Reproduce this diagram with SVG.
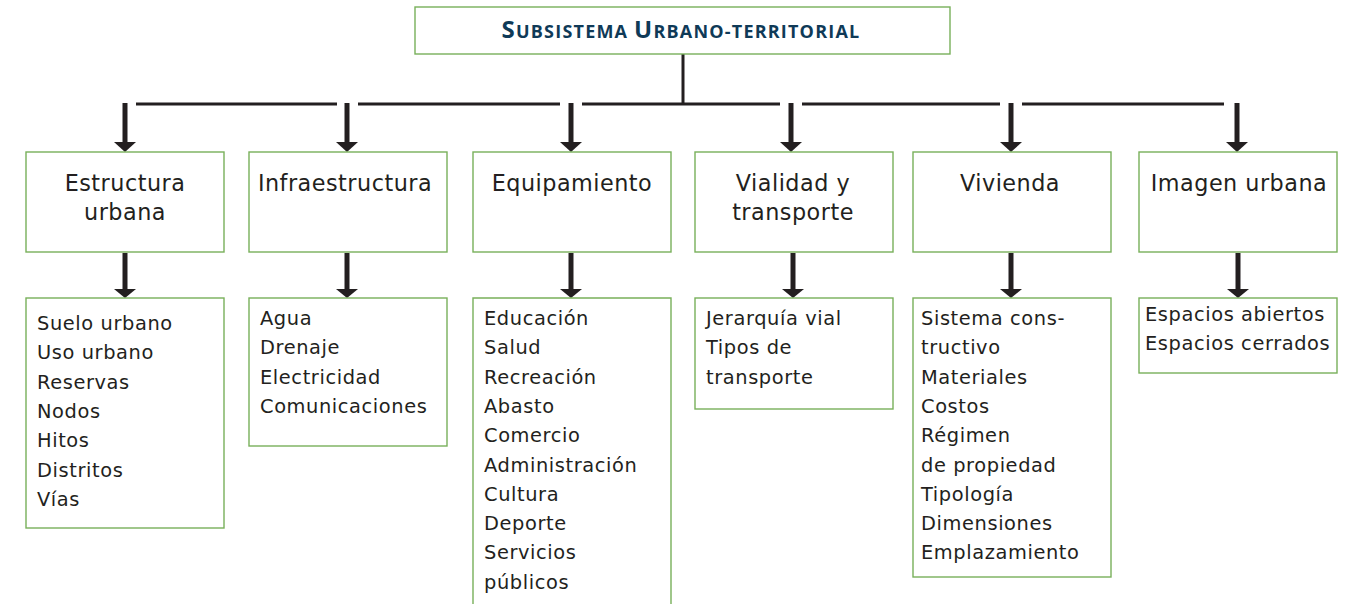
<svg xmlns="http://www.w3.org/2000/svg" width="1348" height="604" viewBox="0 0 1348 604">
<style>
.box{fill:#fff;stroke:#78b05a;stroke-width:1.4}
.lbl{font-family:"DejaVu Sans",sans-serif;font-size:22.3px;fill:#231f20;text-anchor:middle;letter-spacing:0.5px}
.lst{font-family:"DejaVu Sans",sans-serif;font-size:19.4px;fill:#231f20;letter-spacing:0.6px}
.ttl{font-family:"Open Sans","DejaVu Sans",sans-serif;font-weight:bold;fill:#0f3a57;text-anchor:middle;letter-spacing:1.2px}
.ln{stroke:#231f20;stroke-width:3;fill:none}
.sh{stroke:#231f20;stroke-width:5;fill:none}
.hd{fill:#231f20}
</style>
<rect width="1348" height="604" fill="#fff"/>
<g id="connectors">
<line class="ln" x1="683" y1="54" x2="683" y2="104"/>
<line class="ln" x1="136" y1="104" x2="337" y2="104"/>
<line class="ln" x1="358" y1="104" x2="560" y2="104"/>
<line class="ln" x1="582" y1="104" x2="780" y2="104"/>
<line class="ln" x1="802" y1="104" x2="1000" y2="104"/>
<line class="ln" x1="1022" y1="104" x2="1224" y2="104"/>
<g id="arrows1">
<line class="sh" x1="125" y1="103" x2="125" y2="143"/><polygon class="hd" points="114,142 136,142 125,152"/>
<line class="sh" x1="347" y1="103" x2="347" y2="143"/><polygon class="hd" points="336,142 358,142 347,152"/>
<line class="sh" x1="571" y1="103" x2="571" y2="143"/><polygon class="hd" points="560,142 582,142 571,152"/>
<line class="sh" x1="791" y1="103" x2="791" y2="143"/><polygon class="hd" points="780,142 802,142 791,152"/>
<line class="sh" x1="1011" y1="103" x2="1011" y2="143"/><polygon class="hd" points="1000,142 1022,142 1011,152"/>
<line class="sh" x1="1237" y1="103" x2="1237" y2="143"/><polygon class="hd" points="1226,142 1248,142 1237,152"/>
</g>
<g id="arrows2">
<line class="sh" x1="125" y1="253" x2="125" y2="290"/><polygon class="hd" points="114,289 136,289 125,298"/>
<line class="sh" x1="347" y1="253" x2="347" y2="290"/><polygon class="hd" points="336,289 358,289 347,298"/>
<line class="sh" x1="571" y1="253" x2="571" y2="290"/><polygon class="hd" points="560,289 582,289 571,298"/>
<line class="sh" x1="793" y1="253" x2="793" y2="290"/><polygon class="hd" points="782,289 804,289 793,298"/>
<line class="sh" x1="1011" y1="253" x2="1011" y2="290"/><polygon class="hd" points="1000,289 1022,289 1011,298"/>
<line class="sh" x1="1238" y1="253" x2="1238" y2="290"/><polygon class="hd" points="1227,289 1249,289 1238,298"/>
</g>
</g>
<g id="root">
<rect class="box" x="415" y="7" width="535" height="47"/>
<text class="ttl" x="681" y="38"><tspan font-size="24">S</tspan><tspan font-size="18">UBSISTEMA </tspan><tspan font-size="24">U</tspan><tspan font-size="18">RBANO-TERRITORIAL</tspan></text>
</g>
<g id="n1"><rect class="box" x="26" y="152" width="198" height="100"/><text class="lbl" x="125" y="191">Estructura</text><text class="lbl" x="125" y="220">urbana</text></g>
<g id="n2"><rect class="box" x="249" y="152" width="198" height="100"/><text class="lbl" x="345" y="191">Infraestructura</text></g>
<g id="n3"><rect class="box" x="473" y="152" width="198" height="100"/><text class="lbl" x="572" y="191">Equipamiento</text></g>
<g id="n4"><rect class="box" x="695" y="152" width="198" height="100"/><text class="lbl" x="793" y="191">Vialidad y</text><text class="lbl" x="793" y="220">transporte</text></g>
<g id="n5"><rect class="box" x="913" y="152" width="198" height="100"/><text class="lbl" x="1010" y="191">Vivienda</text></g>
<g id="n6"><rect class="box" x="1139" y="152" width="198" height="100"/><text class="lbl" x="1239" y="191">Imagen urbana</text></g>
<g id="l1"><rect class="box" x="26" y="298" width="198" height="230"/>
<text class="lst" x="37" y="330"><tspan x="37">Suelo urbano</tspan><tspan x="37" dy="29.3">Uso urbano</tspan><tspan x="37" dy="29.3">Reservas</tspan><tspan x="37" dy="29.3">Nodos</tspan><tspan x="37" dy="29.3">Hitos</tspan><tspan x="37" dy="29.3">Distritos</tspan><tspan x="37" dy="29.3">Vías</tspan></text></g>
<g id="l2"><rect class="box" x="249" y="298" width="198" height="148"/>
<text class="lst" x="260" y="325"><tspan x="260">Agua</tspan><tspan x="260" dy="29.3">Drenaje</tspan><tspan x="260" dy="29.3">Electricidad</tspan><tspan x="260" dy="29.3">Comunicaciones</tspan></text></g>
<g id="l3"><path class="box" d="M473,605 V298 H671 V605"/>
<text class="lst" x="484" y="325"><tspan x="484">Educación</tspan><tspan x="484" dy="29.3">Salud</tspan><tspan x="484" dy="29.3">Recreación</tspan><tspan x="484" dy="29.3">Abasto</tspan><tspan x="484" dy="29.3">Comercio</tspan><tspan x="484" dy="29.3">Administración</tspan><tspan x="484" dy="29.3">Cultura</tspan><tspan x="484" dy="29.3">Deporte</tspan><tspan x="484" dy="29.3">Servicios</tspan><tspan x="484" dy="29.3">públicos</tspan></text></g>
<g id="l4"><rect class="box" x="695" y="298" width="198" height="111"/>
<text class="lst" x="706" y="325"><tspan x="706">Jerarquía vial</tspan><tspan x="706" dy="29.3">Tipos de</tspan><tspan x="706" dy="29.3">transporte</tspan></text></g>
<g id="l5"><rect class="box" x="913" y="298" width="198" height="279"/>
<text class="lst" x="921" y="325"><tspan x="921">Sistema cons-</tspan><tspan x="921" dy="29.3">tructivo</tspan><tspan x="921" dy="29.3">Materiales</tspan><tspan x="921" dy="29.3">Costos</tspan><tspan x="921" dy="29.3">Régimen</tspan><tspan x="921" dy="29.3">de propiedad</tspan><tspan x="921" dy="29.3">Tipología</tspan><tspan x="921" dy="29.3">Dimensiones</tspan><tspan x="921" dy="29.3">Emplazamiento</tspan></text></g>
<g id="l6"><rect class="box" x="1139" y="298" width="198" height="75"/>
<text class="lst" x="1145" y="321"><tspan x="1145">Espacios abiertos</tspan><tspan x="1145" dy="29.3">Espacios cerrados</tspan></text></g>
</svg>
